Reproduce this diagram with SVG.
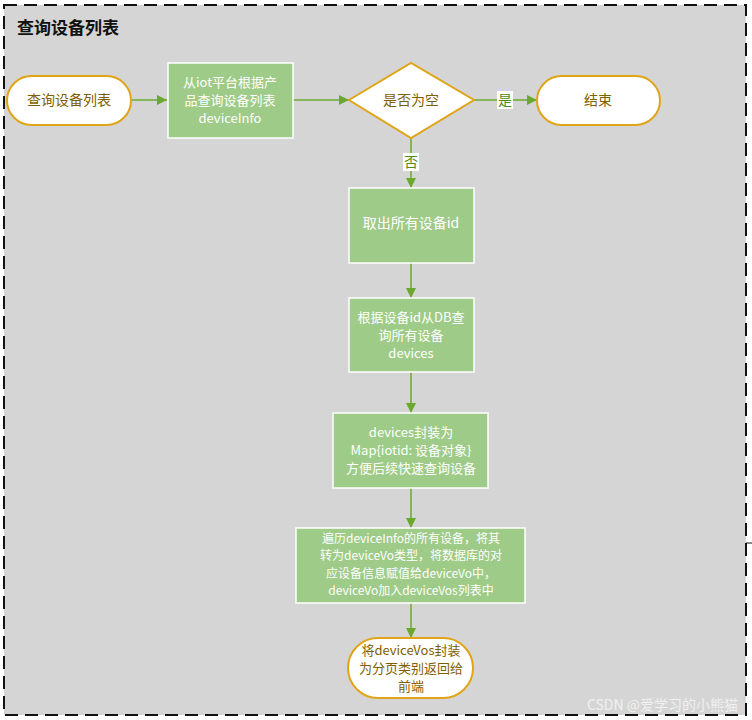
<svg xmlns="http://www.w3.org/2000/svg" width="752" height="720" viewBox="0 0 752 720">
<style>
.t{font-family:"Noto Sans CJK SC","Liberation Sans",sans-serif;font-size:14px;text-anchor:middle}
.s{font-size:13px}
.xs{font-size:12px}
.w{fill:#ffffff}
.o{fill:#7f6000}
.box{fill:#9ecb87;stroke:#ffffff;stroke-width:1.5}
.term{fill:#ffffff;stroke:#e0a417;stroke-width:2}
.edge{stroke:#6aa82f;stroke-width:1.5;fill:none;marker-end:url(#ah)}
.lbl{fill:#4f8a1a}
</style>
<defs>
<marker id="ah" viewBox="0 0 10 10" refX="10" refY="5" markerWidth="10" markerHeight="10" markerUnits="userSpaceOnUse" orient="auto">
<path d="M0,0 L10,5 L0,10 z" fill="#6aa82f"/>
</marker>
</defs>
<rect x="0" y="0" width="752" height="720" fill="#ffffff"/>
<g id="container">
<rect x="4" y="5" width="742" height="710" fill="#d5d5d5" stroke="#111111" stroke-width="2" stroke-dasharray="13 7"/>
<text x="17" y="34" style="font-family:'Noto Sans CJK SC',sans-serif;font-size:17px;font-weight:bold" fill="#111111">查询设备列表</text>
<line x1="746" y1="543" x2="752" y2="543" stroke="#111111" stroke-width="1"/>
</g>
<g id="connectors">
<line class="edge" x1="131" y1="100" x2="167" y2="100"/>
<line class="edge" x1="293" y1="100" x2="349" y2="100"/>
<line class="edge" x1="474" y1="100" x2="537" y2="100"/>
<rect x="497" y="91" width="16" height="18" fill="#ffffff"/>
<text class="t lbl" x="505" y="105">是</text>
<line class="edge" x1="411" y1="138" x2="411" y2="188"/>
<rect x="403" y="153" width="16" height="18" fill="#ffffff"/>
<text class="t lbl" x="411" y="167">否</text>
<line class="edge" x1="411" y1="263" x2="411" y2="298"/>
<line class="edge" x1="411" y1="372" x2="411" y2="413"/>
<line class="edge" x1="411" y1="488" x2="411" y2="528"/>
<line class="edge" x1="411" y1="603" x2="411" y2="638"/>
</g>
<g id="start">
<rect class="term" x="7" y="76" width="124" height="49" rx="24.5"/>
<text class="t o" x="69" y="105">查询设备列表</text>
</g>
<g id="queryIot">
<rect class="box" x="168" y="63" width="125" height="75"/>
<text class="t s w" x="230" y="86.5">从iot平台根据产</text>
<text class="t s w" x="230" y="104.5">品查询设备列表</text>
<text class="t s w" x="230" y="122.5">deviceInfo</text>
</g>
<g id="isEmpty">
<polygon points="349,100 411,63 474,100 411,138" fill="#ffffff" stroke="#e0a417" stroke-width="2"/>
<text class="t o" x="411" y="105">是否为空</text>
</g>
<g id="end">
<rect class="term" x="537" y="76" width="123" height="49" rx="24.5"/>
<text class="t o" x="598" y="105">结束</text>
</g>
<g id="getIds">
<rect class="box" x="349" y="188" width="125" height="75"/>
<text class="t w" x="411" y="228">取出所有设备id</text>
</g>
<g id="queryDb">
<rect class="box" x="349" y="298" width="125" height="74"/>
<text class="t s w" x="411" y="321.5">根据设备id从DB查</text>
<text class="t s w" x="411" y="339.5">询所有设备</text>
<text class="t s w" x="411" y="357.5">devices</text>
</g>
<g id="toMap">
<rect class="box" x="333" y="413" width="155" height="75"/>
<text class="t s w" x="411" y="436.5">devices封装为</text>
<text class="t s w" x="411" y="454.5">Map{iotid: 设备对象}</text>
<text class="t s w" x="411" y="472.5">方便后续快速查询设备</text>
</g>
<g id="convert">
<rect class="box" x="296" y="528" width="229" height="75"/>
<text class="t xs w" x="411" y="542.5">遍历deviceInfo的所有设备，将其</text>
<text class="t xs w" x="411" y="560">转为deviceVo类型，将数据库的对</text>
<text class="t xs w" x="411" y="577.5">应设备信息赋值给deviceVo中，</text>
<text class="t xs w" x="411" y="595">deviceVo加入deviceVos列表中</text>
</g>
<g id="return">
<rect class="term" x="348" y="638" width="125" height="60" rx="30"/>
<text class="t s o" x="411" y="654.5">将deviceVos封装</text>
<text class="t s o" x="411" y="672.5">为分页类别返回给</text>
<text class="t s o" x="411" y="690.5">前端</text>
</g>
<text x="738" y="710" style="font-family:'Noto Sans CJK SC',sans-serif;font-size:14px;text-anchor:end" fill="#f0f0f0">CSDN @爱学习的小熊猫</text>
</svg>
